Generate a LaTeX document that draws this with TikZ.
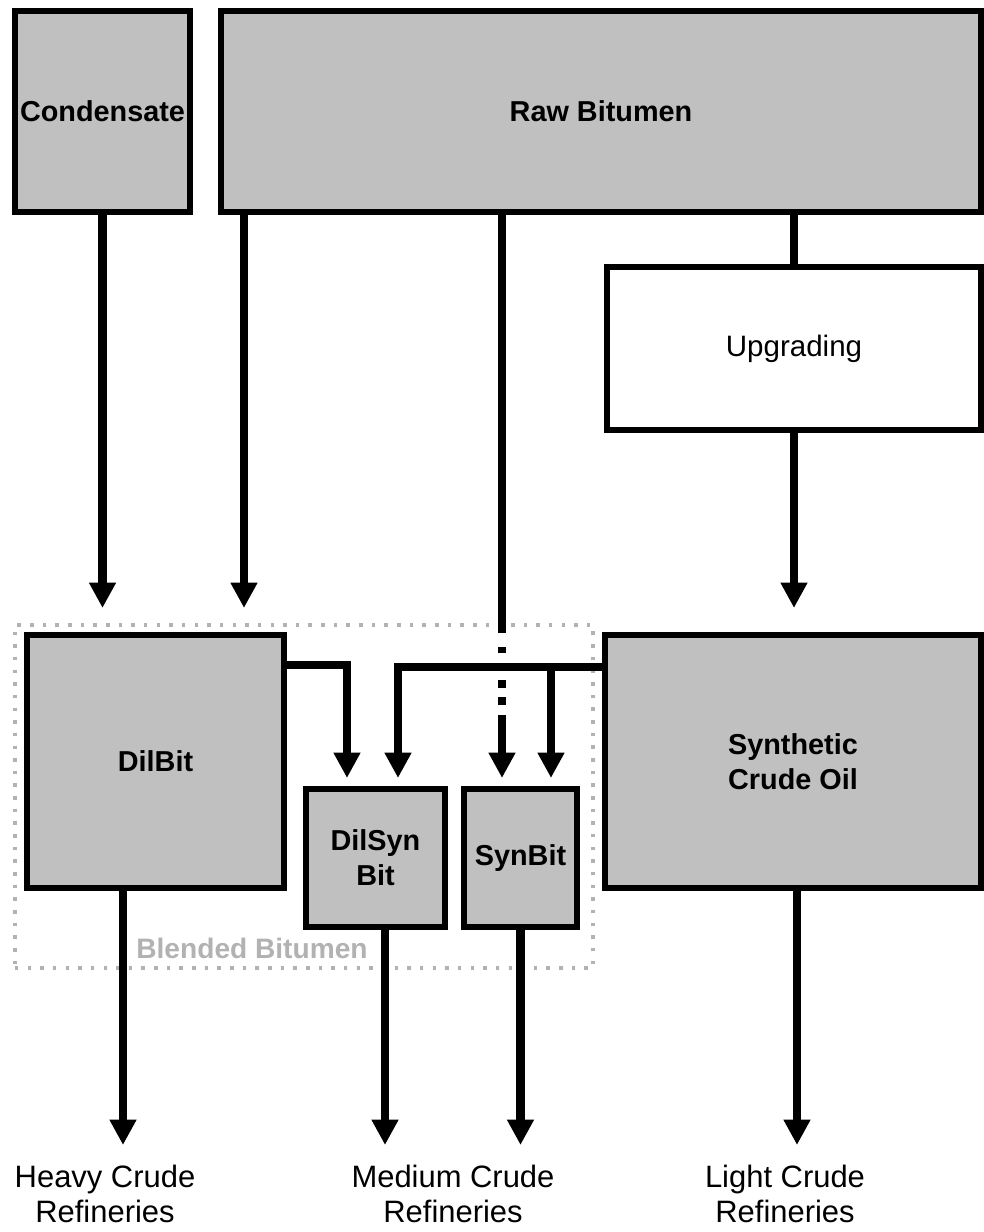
\documentclass[tikz,border=0pt]{standalone}
\usepackage{fontspec}
\setmainfont{Liberation Sans}
\usetikzlibrary{arrows.meta}
\definecolor{boxgray}{RGB}{192,192,192}
\definecolor{dotgray}{RGB}{178,178,178}

\begin{document}
\begin{tikzpicture}[
  x=0.025cm, y=-0.025cm,
  box/.style={draw, line width=4.3pt, fill=boxgray, inner sep=0pt, outer sep=0pt, align=center, font=\fontsize{20.5}{25}\selectfont\bfseries},
  procbox/.style={box, fill=white, font=\fontsize{21}{25}\selectfont},
  blendzone/.style={draw=dotgray, line width=2.5pt, dash pattern=on 2.5pt off 6.5pt, inner sep=0pt, outer sep=0pt},
  arr/.style={-{Triangle[width=18pt,length=18pt]}, line width=5.7pt},
  link/.style={line width=5.7pt},
  outlabel/.style={align=center, inner sep=0pt, anchor=north, font=\fontsize{22}{24.5}\selectfont}
]
  \useasboundingbox (0,0) rectangle (984,1232);

  % blended bitumen group
  \node[blendzone, minimum width=14.45cm, minimum height=8.575cm] (blend) at (304,796.5) {};
  \node[font=\fontsize{20}{24}\selectfont\bfseries, text=dotgray] (blendlbl) at (252,948) {Blended Bitumen};

  % feedstocks
  \node[box, minimum width=4.375cm, minimum height=5.025cm] (cond) at (102.5,111.5) {Condensate};
  \node[box, minimum width=19cm, minimum height=5.025cm] (raw) at (601,111.5) {Raw Bitumen};
  \node[procbox, minimum width=9.35cm, minimum height=4.075cm] (upg) at (794,348.5) {Upgrading};

  % products
  \node[box, minimum width=6.425cm, minimum height=6.325cm] (dil) at (155.5,761.5) {DilBit};
  \node[box, minimum width=3.475cm, minimum height=3.45cm] (dsb) at (375.5,858) {DilSyn\\Bit};
  \node[box, minimum width=2.825cm, minimum height=3.45cm] (syn) at (520.5,858) {SynBit};
  \node[box, minimum width=9.4cm, minimum height=6.325cm] (sco) at (793,761.5) {Synthetic\\Crude Oil};

  % refineries
  \node[outlabel] (heavy) at (105,1165) {Heavy Crude\\Refineries};
  \node[outlabel] (medium) at (453,1165) {Medium Crude\\Refineries};
  \node[outlabel] (light) at (785,1165) {Light Crude\\Refineries};

  \coordinate (split) at (551,667);

  \draw[arr, shorten >=0.675cm] (cond.south) -- (cond.south |- dil.north);
  \draw[arr, shorten >=0.675cm] (244,0 |- raw.south) -- (244,0 |- dil.north);
  \draw[link] (upg.north |- raw.south) -- (upg.north);
  \draw[arr, shorten >=0.675cm] (upg.south) -- (upg.south |- sco.north);
  \draw[arr, shorten >=0.275cm, dash pattern=on 10.525cm off 0.35cm on 0.15cm off 0.675cm on 0.2cm off 0.225cm on 0.2cm off 0.25cm on 3cm]
    (502,0 |- raw.south) -- (502,0 |- syn.north);

  \draw[arr, shorten >=0.275cm] ([yshift=2.4125cm]dil.east) -| ([xshift=-0.7125cm]dsb.north);
  \draw[arr, shorten >=0.275cm] ([yshift=2.3625cm]sco.west) -| ([xshift=0.5625cm]dsb.north);
  \draw[arr, shorten >=0.275cm] (split) -- (split |- syn.north);

  \draw[arr, shorten >=0.5cm] ([xshift=-0.8125cm]dil.south) -- ([xshift=-0.8125cm]dil.south |- heavy.north);
  \draw[arr, shorten >=0.5cm] ([xshift=0.2375cm]dsb.south) -- ([xshift=0.2375cm]dsb.south |- medium.north);
  \draw[arr, shorten >=0.5cm] (syn.south) -- (syn.south |- medium.north);
  \draw[arr, shorten >=0.5cm] ([xshift=0.1cm]sco.south) -- ([xshift=0.1cm]sco.south |- light.north);
\end{tikzpicture}
\end{document}
